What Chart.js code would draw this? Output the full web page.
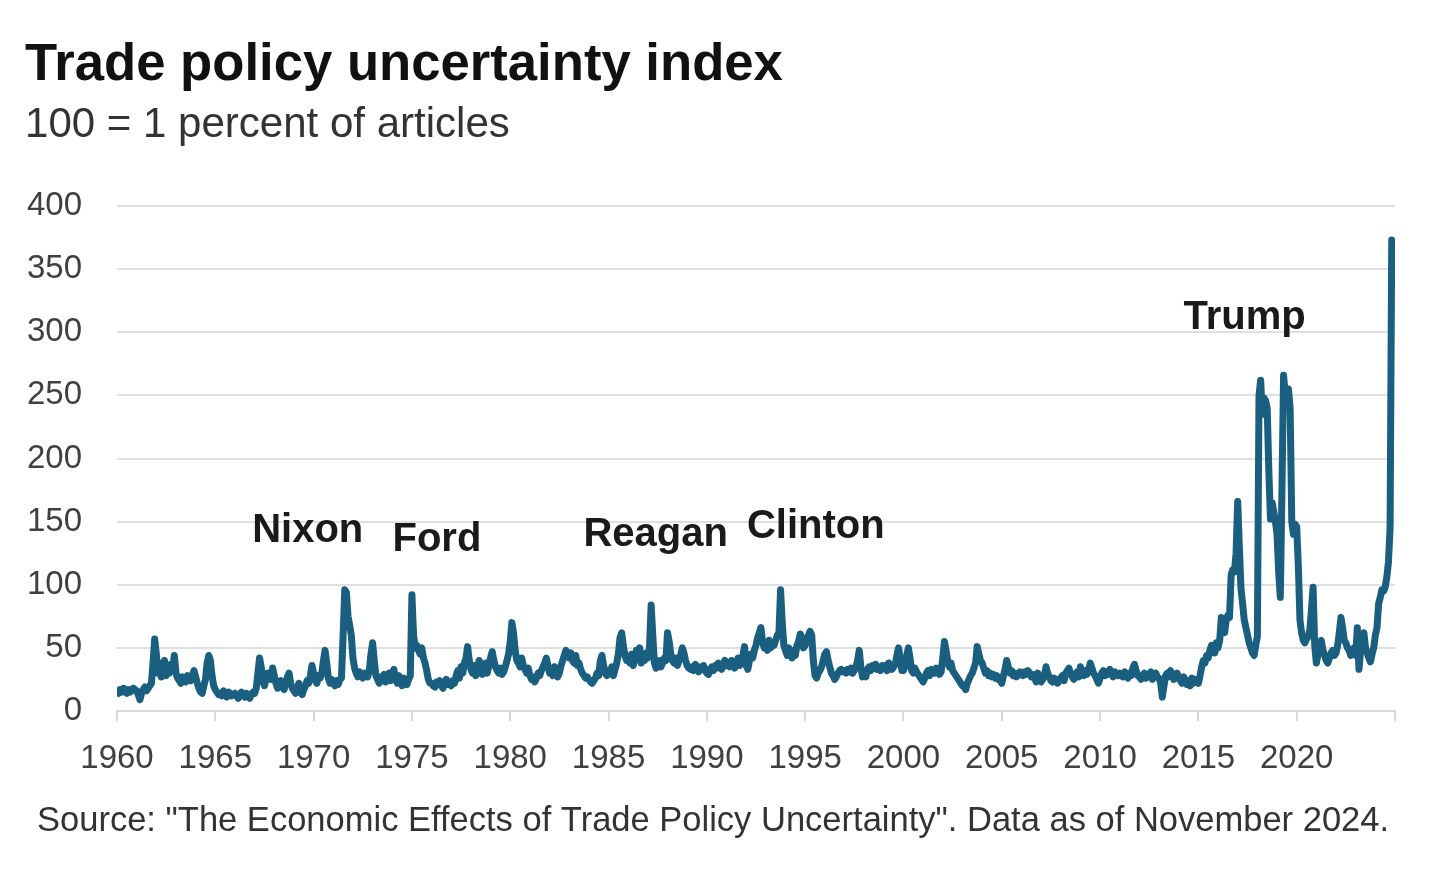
<!DOCTYPE html>
<html><head><meta charset="utf-8">
<script src="https://cdn.jsdelivr.net/npm/chart.js@4.4.0/dist/chart.umd.min.js"></script>
<style>html,body{margin:0;padding:0;background:#fff;}#wrap{width:1434px;height:879px;position:relative;}</style>
</head><body><div id="wrap"><canvas id="c"></canvas></div>
<script>
const startYear = 1960;
const v1960s = [
16,14,17,15,18,16,14,17,15,16,18,17,
16,13,9,14,17,19,16,18,20,22,38,57,
45,30,38,27,33,40,28,35,30,37,32,44,
30,26,24,22,27,25,23,28,26,24,28,32,
27,22,18,15,14,20,25,38,44,40,28,20,
17,15,13,14,12,16,13,11,15,14,12,13,
14,12,10,13,15,12,11,14,12,10,13,15,
14,18,30,42,35,24,20,26,30,28,25,34,
28,22,18,20,24,19,17,22,27,30,22,18,
16,14,18,22,15,13,17,20,24,22,28,36];
const v1970s = [
30,24,22,28,26,30,40,48,38,26,22,25,
22,20,24,21,25,26,60,96,94,75,68,60,
42,34,30,27,31,28,26,30,28,27,32,45,
54,40,28,25,22,27,24,29,23,26,30,24,
30,33,25,22,28,24,20,26,23,21,25,28,
92,60,50,52,48,45,50,42,38,32,25,22,
22,20,19,23,21,24,20,18,22,25,21,23,
20,24,22,28,32,26,35,30,38,42,51,40,
33,30,36,28,34,40,35,29,32,38,30,36,
42,47,40,35,32,30,34,29,31,35,40,45];
const v1980s = [
55,70,62,48,40,38,35,42,36,33,30,34,
28,25,27,23,26,30,28,32,35,38,42,36,
30,33,28,35,31,27,30,36,40,44,48,45,
42,46,40,38,44,36,38,33,30,28,26,27,
25,23,22,24,26,30,28,40,44,36,30,28,
32,30,35,28,33,38,45,58,62,52,44,40,
42,38,45,36,40,48,42,50,38,44,40,46,
42,50,84,60,38,34,36,40,35,38,42,40,
62,55,45,40,38,42,36,40,44,50,46,40,
36,34,33,35,32,37,34,31,35,33,36,32];
const v1990s = [
30,29,33,35,32,36,34,38,35,33,37,40,
36,38,35,40,37,34,38,42,36,39,44,51,
36,33,40,45,42,48,52,58,62,66,55,50,
51,48,56,50,54,52,56,60,62,96,70,52,
48,44,50,46,42,48,44,52,55,61,58,50,
52,56,60,63,60,40,28,26,30,32,35,40,
45,47,40,35,30,28,25,27,30,32,33,31,
32,30,33,31,34,30,32,35,40,48,35,27,
29,27,33,35,32,36,34,37,33,35,32,36,
34,36,32,38,36,33,35,37,44,50,42,32];
const v2000s = [
32,36,44,50,42,32,30,34,31,29,27,25,
23,26,30,32,28,33,31,30,34,32,29,31,
42,55,48,40,35,38,32,30,28,26,24,22,
20,19,17,22,25,28,30,34,38,51,45,40,
38,34,30,32,28,30,27,29,26,28,25,24,
22,28,33,40,35,30,32,28,30,27,29,31,
30,28,31,29,32,30,27,29,26,23,30,25,
23,25,28,35,30,27,24,23,26,25,22,24,
26,28,24,30,32,34,30,27,25,28,31,27,
35,30,28,32,29,33,38,34,30,28,25,22];
const v2010s = [
26,30,32,28,31,29,33,30,27,31,29,28,
30,28,27,31,29,26,30,28,34,37,32,28,
27,25,28,30,26,29,27,31,25,28,30,27,
26,22,11,20,28,30,27,32,29,25,28,30,
26,24,22,27,25,21,23,20,26,22,25,24,
22,28,35,40,38,44,42,48,52,50,46,54,
50,56,74,70,62,72,76,74,108,112,110,125,
166,130,97,85,72,66,60,54,50,46,44,52,
59,250,262,235,248,246,240,190,152,165,158,150,
140,110,90,175,266,250,248,255,240,150,140,148];
const v2020s = [
146,115,72,62,56,54,57,59,64,80,98,52,
38,45,50,56,48,44,40,38,42,46,48,44,
46,52,62,74,66,56,54,50,48,44,46,50,
44,66,33,48,55,62,50,46,42,39,45,50,
60,66,85,90,96,95,98,106,118,145,373];

const labelTexts = ['Nixon','Ford','Reagan','Clinton','Trump'];
const labelYears = [1969.7, 1976.27, 1987.4, 1995.54, 2017.35];
const labelValues = [142.6, 135.4, 139.4, 145.7, 311.3];

const titleText = 'Trade policy uncertainty index';
const subtitleText = '100 = 1 percent of articles';
const sourceText = 'Source: "The Economic Effects of Trade Policy Uncertainty". Data as of November 2024.';

const allValues = [].concat(v1960s, v1970s, v1980s, v1990s, v2000s, v2010s, v2020s);
const points = allValues.map((v, i) => ({ x: startYear + i / 12, y: v }));

const FONT = '"Liberation Sans", Arial, sans-serif';

function fitSize(ctx, text, weight, target) {
  ctx.font = weight + ' 100px ' + FONT;
  return 100 * target / ctx.measureText(text).width;
}

const textPlugin = {
  id: 'texts',
  afterDraw(chart) {
    const ctx = chart.ctx;
    ctx.save();
    ctx.textAlign = 'left';
    ctx.textBaseline = 'alphabetic';
    let s = fitSize(ctx, titleText, 'bold', 758);
    ctx.font = 'bold ' + s + 'px ' + FONT;
    ctx.fillStyle = '#111';
    ctx.fillText(titleText, 25, 80);
    s = fitSize(ctx, subtitleText, 'normal', 485);
    ctx.font = 'normal ' + s + 'px ' + FONT;
    ctx.fillStyle = '#333';
    ctx.fillText(subtitleText, 25, 137);
    s = fitSize(ctx, sourceText, 'normal', 1353);
    ctx.font = 'normal ' + s + 'px ' + FONT;
    ctx.fillStyle = '#333';
    ctx.fillText(sourceText, 37, 831);
    const xs = chart.scales.x, ys = chart.scales.y;
    ctx.font = 'bold 40px ' + FONT;
    ctx.fillStyle = '#1a1a1a';
    ctx.textAlign = 'center';
    ctx.textBaseline = 'middle';
    labelTexts.forEach((t, i) => {
      ctx.fillText(t, xs.getPixelForValue(labelYears[i]), ys.getPixelForValue(labelValues[i]));
    });
    ctx.restore();
  }
};

new Chart(document.getElementById('c'), {
  type: 'line',
  data: {
    datasets: [{
      data: points,
      borderColor: '#1a5f80',
      borderWidth: 7,
      pointRadius: 0,
      tension: 0,
      borderJoinStyle: 'round',
      borderCapStyle: 'round'
    }]
  },
  options: {
    responsive: true,
    maintainAspectRatio: false,
    devicePixelRatio: 1,
    animation: false,
    layout: { padding: { left: 17, right: 39, top: 206, bottom: 108 } },
    plugins: { legend: { display: false }, tooltip: { enabled: false } },
    scales: {
      x: {
        type: 'linear', min: 1960, max: 2025,
        ticks: {
          stepSize: 5, autoSkip: false, maxRotation: 0, padding: 18,
          color: '#404040', font: { size: 33, family: FONT },
          callback: (v) => (v === 2025 ? '' : String(v))
        },
        grid: { drawOnChartArea: false, drawTicks: true, tickLength: 10, color: '#d9d9d9', lineWidth: 2 },
        border: { display: true, color: '#d9d9d9', width: 2 },
        afterFit: (s) => { s.height = 60; }
      },
      y: {
        min: 0, max: 400,
        ticks: { stepSize: 50, padding: 35, color: '#404040', font: { size: 33, family: FONT } },
        grid: { color: '#e0e0e0', lineWidth: 2, drawTicks: false },
        border: { display: false },
        afterFit: (s) => { s.width = 100; }
      }
    }
  },
  plugins: [textPlugin]
});
</script>
</body></html>
